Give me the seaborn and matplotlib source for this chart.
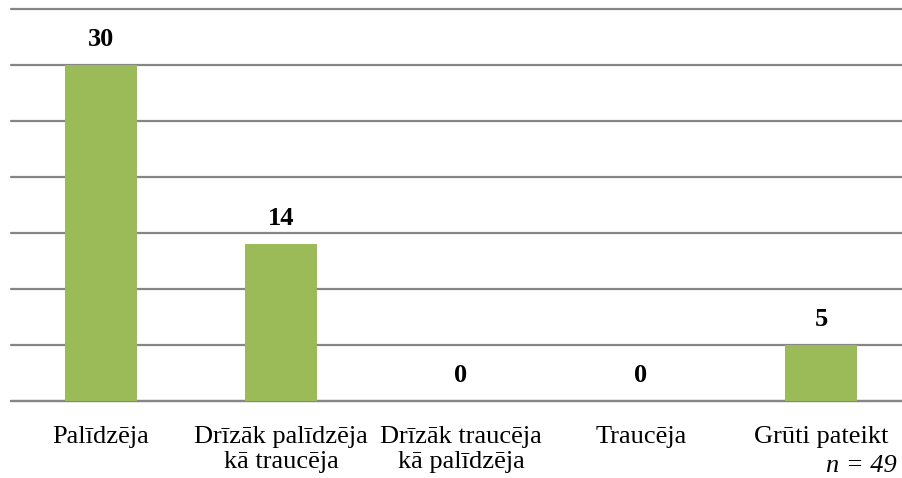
import matplotlib
matplotlib.use("Agg")
import matplotlib.pyplot as plt
import seaborn as sns
import pandas as pd

categories = ["Palīdzēja", "Drīzāk palīdzēja\nkā traucēja", "Drīzāk traucēja\nkā palīdzēja",
              "Traucēja", "Grūti pateikt"]
values = [30, 14, 0, 0, 5]
y_ticks = [0, 5, 10, 15, 20, 25, 30, 35]
note = "n = 49"

sns.set_style("white")
plt.rcParams['font.family'] = ['Liberation Serif', 'DejaVu Serif']
plt.rcParams['text.color'] = 'black'
plt.rcParams['xtick.color'] = 'black'

df = pd.DataFrame({"cat": categories, "val": values})

fig = plt.figure(figsize=(9.03, 4.78), dpi=100)
ax = fig.add_axes([11 / 903, 77 / 478, 900 / 903, 392 / 478])

sns.barplot(data=df, x="cat", y="val", color="#9BBB59", width=0.4,
            saturation=1, linewidth=0, ax=ax, zorder=3)

ax.set_ylim(0, 35)
ax.set_yticks(y_ticks)
ax.set_yticklabels([])
ax.tick_params(axis='y', length=0)
ax.tick_params(axis='x', length=0, pad=18, labelsize=19)
for lbl in ax.get_xticklabels():
    lbl.set_linespacing(1.15)
ax.yaxis.grid(True, color="#868686", linewidth=1.6, zorder=0)
for gl in ax.get_ygridlines():
    gl.set_clip_on(False)
ax.set_axisbelow(True)
for s in ["left", "right", "top"]:
    ax.spines[s].set_visible(False)
ax.spines["bottom"].set_color("#868686")
ax.spines["bottom"].set_linewidth(1.6)
ax.set_xlabel("")
ax.set_ylabel("")
ax.set_xlim(-0.5, 4.5)

for i, v in enumerate(values):
    ax.annotate(str(v), (i, v), xytext=(0, 14), textcoords="offset points",
                ha="center", va="baseline", fontsize=19, fontweight="bold")

fig.text(897 / 903, 6 / 478, note, ha="right", va="baseline", fontsize=19,
         style="italic")

fig.savefig("out.png", dpi=100)
